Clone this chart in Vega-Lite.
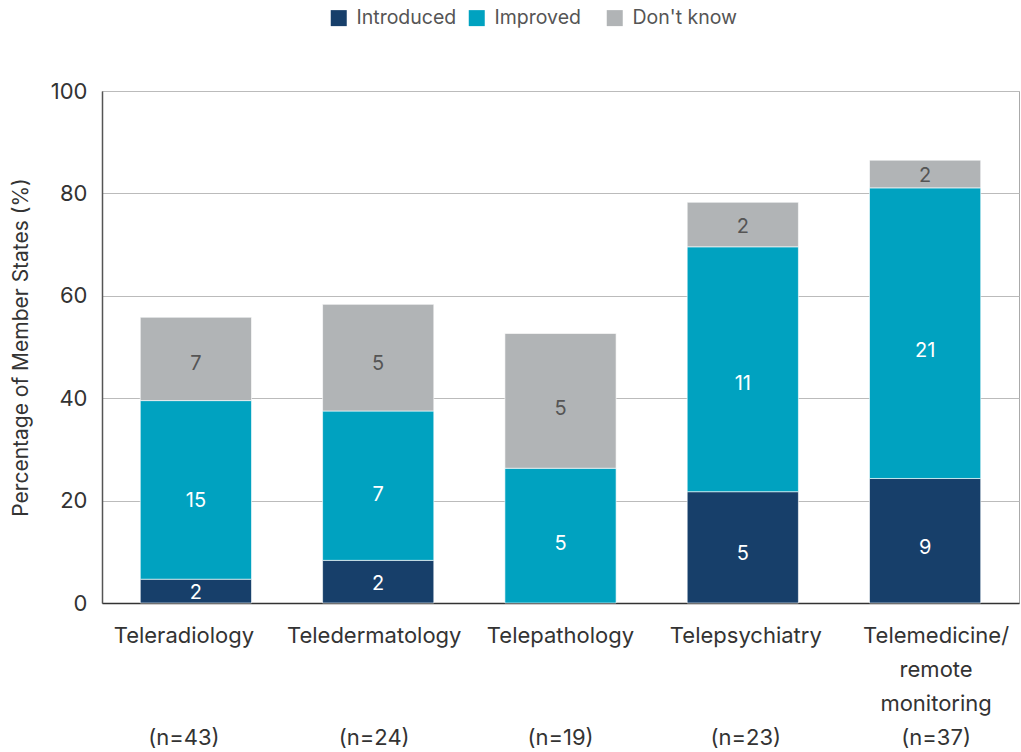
{
  "$schema": "https://vega.github.io/schema/vega-lite/v6.json",
  "autosize": "none",
  "width": 917,
  "height": 512,
  "padding": {"left": 102, "top": 91, "right": 2, "bottom": 149},
  "background": "white",
  "config": {
    "font": "Inter",
    "view": {"stroke": "#aaaaaa", "strokeWidth": 1},
    "axis": {"labelFont": "Inter", "titleFont": "Inter"}
  },
  "data": {
    "values": [
      {"category": "Teleradiology", "status": "Introduced", "count": 2, "percent": 4.65},
      {"category": "Teleradiology", "status": "Improved", "count": 15, "percent": 34.88},
      {"category": "Teleradiology", "status": "Don't know", "count": 7, "percent": 16.28},
      {"category": "Teledermatology", "status": "Introduced", "count": 2, "percent": 8.33},
      {"category": "Teledermatology", "status": "Improved", "count": 7, "percent": 29.17},
      {"category": "Teledermatology", "status": "Don't know", "count": 5, "percent": 20.83},
      {"category": "Telepathology", "status": "Improved", "count": 5, "percent": 26.32},
      {"category": "Telepathology", "status": "Don't know", "count": 5, "percent": 26.32},
      {"category": "Telepsychiatry", "status": "Introduced", "count": 5, "percent": 21.74},
      {"category": "Telepsychiatry", "status": "Improved", "count": 11, "percent": 47.83},
      {"category": "Telepsychiatry", "status": "Don't know", "count": 2, "percent": 8.7},
      {"category": "Telemedicine/remote monitoring", "status": "Introduced", "count": 9, "percent": 24.32},
      {"category": "Telemedicine/remote monitoring", "status": "Improved", "count": 21, "percent": 56.76},
      {"category": "Telemedicine/remote monitoring", "status": "Don't know", "count": 2, "percent": 5.41}
    ]
  },
  "encoding": {
    "x": {
      "field": "category",
      "type": "nominal",
      "sort": null,
      "scale": {"paddingInner": 0.39, "paddingOuter": 0.21},
      "axis": {
        "title": null,
        "labelAngle": 0,
        "labelFontSize": 22,
        "labelColor": "#333333",
        "labelLineHeight": 34,
        "labelBaseline": "top",
        "labelPadding": 22,
        "labelLimit": 300,
        "labelOverlap": false,
        "labelOffset": {
          "condition": [
            {"test": "datum.value === 'Teleradiology'", "value": -12},
            {"test": "datum.value === 'Teledermatology'", "value": -4},
            {"test": "datum.value === 'Telepsychiatry'", "value": 3},
            {"test": "datum.value === 'Telemedicine/remote monitoring'", "value": 11}
          ],
          "value": 0
        },
        "ticks": false,
        "domainColor": "#333333",
        "domainWidth": 1.5,
        "labelExpr": "({'Teleradiology': ['Teleradiology','\u200b','\u200b','(n=43)'], 'Teledermatology': ['Teledermatology','\u200b','\u200b','(n=24)'], 'Telepathology': ['Telepathology','\u200b','\u200b','(n=19)'], 'Telepsychiatry': ['Telepsychiatry','\u200b','\u200b','(n=23)'], 'Telemedicine/remote monitoring': ['Telemedicine/','remote','monitoring','(n=37)']})[datum.label]"
      }
    },
    "y": {
      "field": "percent",
      "type": "quantitative",
      "stack": "zero",
      "scale": {"domain": [0, 100]},
      "axis": {
        "title": "Percentage of Member States (%)",
        "titleFontSize": 21,
        "titleFontWeight": "normal",
        "titleColor": "#333333",
        "titlePadding": 19,
        "labelFontSize": 22,
        "labelColor": "#333333",
        "labelPadding": 15,
        "labelOverlap": false,
        "values": [0, 20, 40, 60, 80, 100],
        "ticks": false,
        "gridColor": "#bbbbbb",
        "domainColor": "#555555",
        "domainWidth": 1.5
      }
    },
    "order": {"field": "status", "sort": "descending"}
  },
  "layer": [
    {
      "mark": {"type": "bar", "stroke": "#ffffff", "strokeWidth": 1, "strokeOpacity": 0.6},
      "encoding": {
        "color": {
          "field": "status",
          "type": "nominal",
          "sort": ["Introduced", "Improved", "Don't know"],
          "scale": {"domain": ["Introduced", "Improved", "Don't know"], "range": ["#173f6a", "#00a2c0", "#b1b4b6"]},
          "legend": {
            "title": null,
            "orient": "none",
            "direction": "horizontal",
            "legendX": 227,
            "legendY": -83,
            "symbolType": "square",
            "symbolSize": 256,
            "symbolStrokeWidth": 0,
            "symbolOpacity": 1,
            "labelFontSize": 19.5,
            "labelColor": "#555555",
            "labelFont": "Inter",
            "labelOffset": 8,
            "gridAlign": "all",
            "columnPadding": 5
          }
        }
      }
    },
    {
      "mark": {"type": "text", "fontSize": 20, "font": "Inter"},
      "encoding": {
        "y": {"field": "percent", "type": "quantitative", "stack": "zero", "bandPosition": 0.44},
        "detail": {"field": "status", "type": "nominal"},
        "text": {"field": "count", "type": "quantitative"},
        "color": {
          "condition": {"test": "datum.status === \"Don't know\"", "value": "#555555"},
          "value": "white"
        }
      }
    }
  ]
}
